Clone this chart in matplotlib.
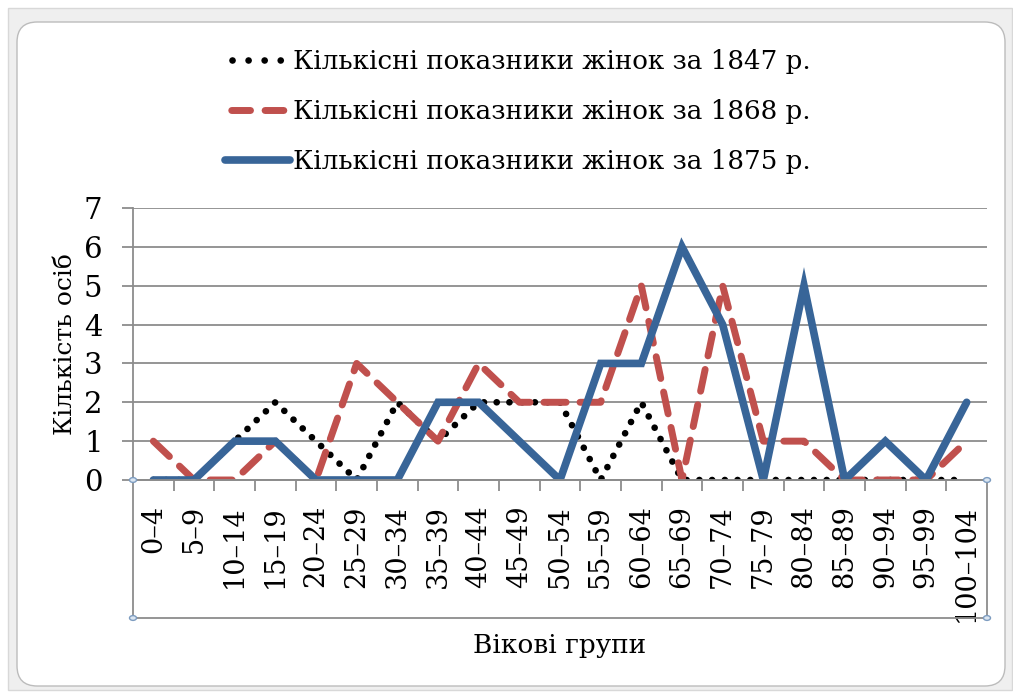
import matplotlib
matplotlib.use('Agg')
import matplotlib.pyplot as plt
from matplotlib.patches import FancyBboxPatch, Rectangle, Circle
from matplotlib.lines import Line2D

plt.rcParams['font.family'] = ['DejaVu Serif']

groups = ['0–4', '5–9', '10–14', '15–19', '20–24', '25–29', '30–34', '35–39',
          '40–44', '45–49', '50–54', '55–59', '60–64', '65–69', '70–74',
          '75–79', '80–84', '85–89', '90–94', '95–99', '100–104']
w1847 = [0, 0, 1, 2, 1, 0, 2, 1, 2, 2, 2, 0, 2, 0, 0, 0, 0, 0, 0, 0, 0]
w1868 = [1, 0, 0, 1, 0, 3, 2, 1, 3, 2, 2, 2, 5, 0, 5, 1, 1, 0, 0, 0, 1]
w1875 = [0, 0, 1, 1, 0, 0, 0, 2, 2, 1, 0, 3, 3, 6, 4, 0, 5, 0, 1, 0, 2]
names = ['Кількісні показники жінок за 1847 р.',
         'Кількісні показники жінок за 1868 р.',
         'Кількісні показники жінок за 1875 р.']

W, H = 1013, 693
fx = lambda x: x / W
fy = lambda y: 1 - y / H

fig = plt.figure(figsize=(W / 100, H / 100), dpi=100)

# excel-like frame around the chart
fig.patches.append(FancyBboxPatch((fx(8), fy(690)), fx(1004), (682) / H,
                                  boxstyle='square,pad=0', transform=fig.transFigure,
                                  facecolor='#efefef', edgecolor='#d8d8d8', lw=1, zorder=-3))
fig.patches.append(FancyBboxPatch((fx(17), fy(686)), fx(988), (664) / H,
                                  boxstyle='round,pad=0,rounding_size=0.02',
                                  mutation_aspect=W / H,
                                  transform=fig.transFigure,
                                  facecolor='white', edgecolor='#bcbcbc', lw=1, zorder=-2))

ax = fig.add_axes([fx(133), fy(480), fx(987 - 133), (480 - 208) / H])
ax.set_facecolor('none')
x = list(range(len(groups)))

ax.plot(x, w1847, color='black', lw=4.8, linestyle=(0, (0.01, 1.9)),
        dash_capstyle='round', zorder=3)
ax.plot(x, w1868, color='#C0504D', lw=5, linestyle=(0, (3.2, 2.0)),
        dash_capstyle='round', zorder=4)
ax.plot(x, w1875, color='#386598', lw=5.5, solid_capstyle='round',
        solid_joinstyle='miter', zorder=5)

ax.set_xlim(-0.5, len(groups) - 0.5)
ax.set_ylim(0, 7)
ax.set_yticks(range(8))
ax.yaxis.grid(True, color='#8c8c8c', lw=1.3)
ax.set_axisbelow(True)
for s in ['top', 'right']:
    ax.spines[s].set_visible(False)
for s in ['left', 'bottom']:
    ax.spines[s].set_color('#8c8c8c')
    ax.spines[s].set_linewidth(1.3)

ax.set_xticks(x)
ax.set_xticklabels(groups, rotation=90, fontsize=19.5)
ax.set_xticks([i - 0.5 for i in range(1, len(groups))], minor=True)
ax.tick_params(axis='x', which='major', length=0, pad=18)
ax.tick_params(axis='x', which='minor', length=8, width=1.3, color='#8c8c8c', direction='out')
ax.tick_params(axis='y', length=8, width=1.3, color='#8c8c8c', labelsize=21, pad=14)

ax.set_ylabel('Кількість осіб', fontsize=18, labelpad=5)
fig.text(fx(560), fy(645), 'Вікові групи', fontsize=19, ha='center', va='center')

# selection box of the category axis
sel = Rectangle((fx(133), fy(618)), fx(987 - 133), (618 - 480) / H,
                transform=fig.transFigure, fill=False, edgecolor='#8c8c8c', lw=1.3, zorder=1)
fig.patches.append(sel)
for px, py in [(133, 480), (987, 480), (133, 618), (987, 618)]:
    fig.patches.append(Circle((fx(px), fy(py)), 3.5 / W, transform=fig.transFigure,
                              facecolor='#dbe6f2', edgecolor='#7d9cc0', lw=1, zorder=6))

# legend proxies (excel draws the dotted / dashed samples a bit coarser)
handles = [
    Line2D([], [], color='black', lw=4.8, linestyle=(1.36, (0.01, 2.4)), dash_capstyle='round'),
    Line2D([], [], color='#C0504D', lw=5, linestyle=(3.9, (2.7, 2.1)), dash_capstyle='round'),
    Line2D([], [], color='#386598', lw=5.5, solid_capstyle='round'),
]
fig.legend(handles, names, loc='upper left', bbox_to_anchor=(fx(212), fy(36)), frameon=False,
           fontsize=18.8, handlelength=2.5, handletextpad=0.1, labelspacing=0.95,
           borderpad=0)

fig.savefig('out.png', dpi=100)
